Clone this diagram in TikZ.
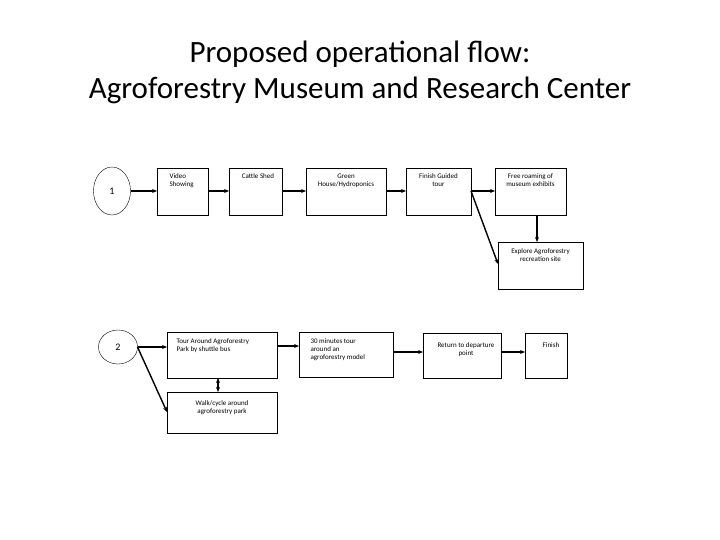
\documentclass[tikz,border=0pt]{standalone}
\usepackage{fontspec}
\setmainfont{Carlito}
\usetikzlibrary{shapes.geometric,arrows.meta}
\begin{document}
\begin{tikzpicture}[x=1pt,y=-1pt,
  bx/.style={draw,thick,inner sep=0pt},
  lbl/.style={font=\fontsize{7}{8}\selectfont,align=left,anchor=north west},
  lblc/.style={font=\fontsize{7}{8}\selectfont,align=center,anchor=north},
  ar/.style={line width=1.4pt,-{Stealth[length=5pt,width=4pt]}}]
\useasboundingbox (0,0) rectangle (720,540);
\node[font=\fontsize{31}{36}\selectfont,align=center] (title) at (360,72) {Proposed operational flow:\\Agroforestry Museum and Research Center};
% row 1
\node[draw,ellipse,minimum width=37pt,minimum height=48pt,inner sep=0pt] (e1) at (112,191) {1};
\node[bx,minimum width=51pt,minimum height=47pt] (v) at (182.5,191.5) {};
\node[lbl] (vt) at (166,170) {Video\\Showing};
\node[bx,minimum width=53pt,minimum height=47pt] (c) at (255.5,191.5) {};
\node[lblc] (ct) at (258,170) {Cattle Shed};
\node[bx,minimum width=80pt,minimum height=47pt] (g) at (346,191.5) {};
\node[lblc] (gt) at (346,170) {Green\\House/Hydroponics};
\node[bx,minimum width=65pt,minimum height=47pt] (f) at (438.5,191.5) {};
\node[lblc] (ft) at (438.5,170) {Finish Guided\\tour};
\node[bx,minimum width=71pt,minimum height=47pt] (fr) at (530.5,191.5) {};
\node[lblc] (frt) at (530.5,170) {Free roaming of\\museum exhibits};
\node[bx,minimum width=85pt,minimum height=47pt] (ex) at (540.5,265.5) {};
\node[lblc] (ext) at (540.5,245) {Explore Agroforestry\\recreation site};
\coordinate (a1) at (130.5,191);
\coordinate (a2) at (157,191);
\coordinate (b1) at (208,191);
\coordinate (b2) at (229,191);
\coordinate (c1) at (282,191);
\coordinate (c2) at (306,191);
\coordinate (d1) at (386,191);
\coordinate (d2) at (406,191);
\coordinate (f1) at (471,191);
\coordinate (f2) at (495,191);
\coordinate (g1) at (537,215);
\coordinate (g2) at (537,242);
\coordinate (h2) at (498,264);
\draw[ar] (a1) -- (a2);
\draw[ar] (b1) -- (b2);
\draw[ar] (c1) -- (c2);
\draw[ar] (d1) -- (d2);
\draw[ar] (f1) -- (f2);
\draw[ar] (f1) -- (h2);
\draw[ar] (g1) -- (g2);
% row 2
\node[draw,ellipse,minimum width=39pt,minimum height=34pt,inner sep=0pt] (e2) at (118,347) {2};
\node[bx,minimum width=110pt,minimum height=46pt] (t) at (222,355) {};
\node[lbl] (tt) at (173,335) {Tour Around Agroforestry\\Park by shuttle bus};
\node[bx,minimum width=94pt,minimum height=45pt] (m) at (346,354.5) {};
\node[lbl] (mt) at (307,335) {30 minutes tour\\around an\\agroforestry model};
\node[bx,minimum width=78pt,minimum height=45pt] (r) at (462,355.5) {};
\node[lblc] (rt) at (466,339) {Return to departure\\point};
\node[bx,minimum width=42pt,minimum height=45pt] (fi) at (546,355.5) {};
\node[lblc] (fit) at (551,339) {Finish};
\node[bx,minimum width=110pt,minimum height=41pt] (w) at (222,412.5) {};
\node[lblc] (wt) at (222,397) {Walk/cycle around\\agroforestry park};
\coordinate (i1) at (137.5,347);
\coordinate (i2) at (167,347);
\coordinate (j1) at (277,346);
\coordinate (j2) at (299,346);
\coordinate (k1) at (393,352);
\coordinate (k2) at (423,352);
\coordinate (l1) at (501,352);
\coordinate (l2) at (525,352);
\coordinate (n2) at (167,412);
\coordinate (o1) at (218,378);
\coordinate (o2) at (218,392);
\draw[ar] (i1) -- (i2);
\draw[ar] (j1) -- (j2);
\draw[ar] (k1) -- (k2);
\draw[ar] (l1) -- (l2);
\draw[ar] (i1) -- (n2);
\draw[line width=1.4pt,{Stealth[length=5pt,width=4pt]}-{Stealth[length=5pt,width=4pt]}] (o1) -- (o2);
\end{tikzpicture}
\end{document}
